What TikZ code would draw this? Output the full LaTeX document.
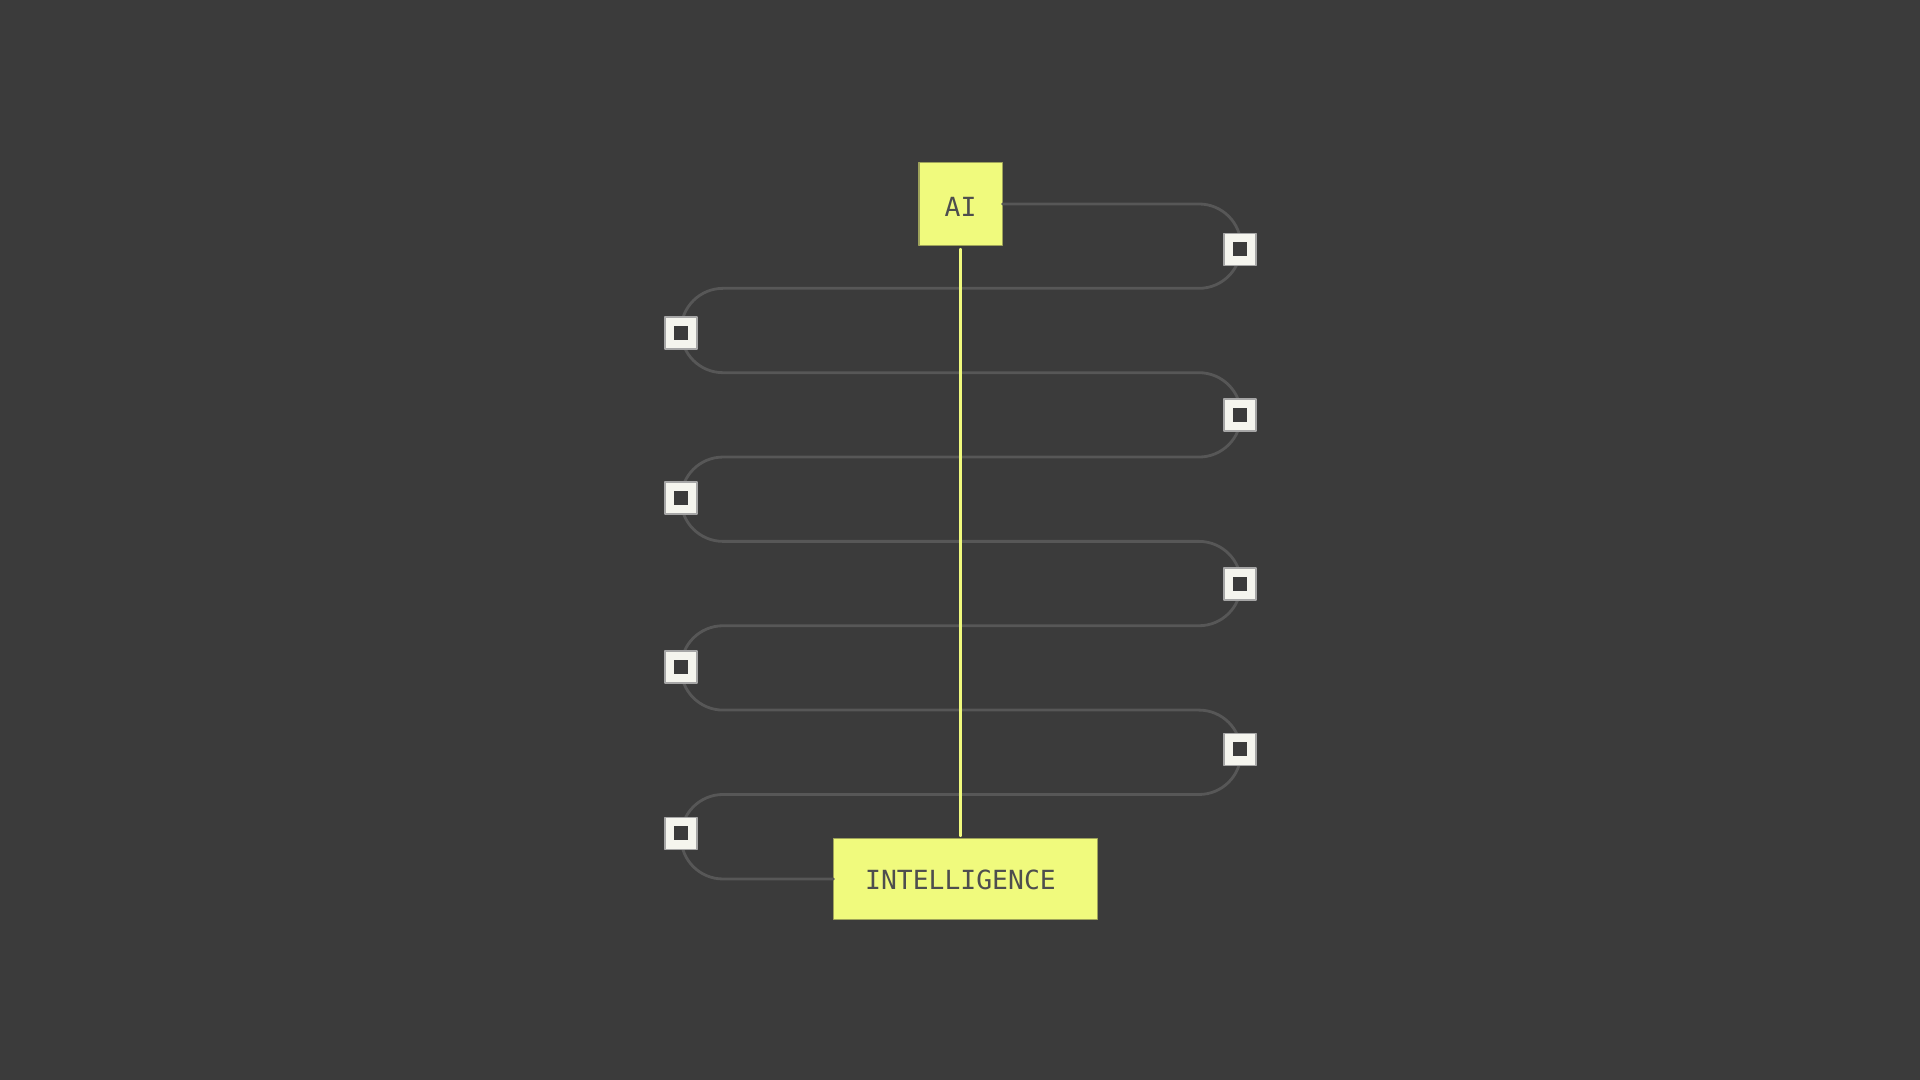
\documentclass[tikz,border=0pt]{standalone}
\usepackage{fontspec}
\setmonofont{DejaVu Sans Mono}
\definecolor{bgdark}{HTML}{3B3B3B}
\definecolor{pipegray}{HTML}{575757}
\definecolor{lime}{HTML}{F0FA7D}
\definecolor{limeedge}{HTML}{9EA35A}
\definecolor{textgray}{HTML}{4E4E4E}
\definecolor{chipwhite}{HTML}{F5F5EE}
\begin{document}
\begin{tikzpicture}[x=0.01cm, y=-0.01cm, font=\ttfamily\fontsize{7.5}{9}\selectfont, line join=round, line cap=round,
	box/.style={draw=limeedge, fill=lime, text=textgray, line width=0.3pt, inner sep=0pt},
	chip/.style={draw=gray!70, fill=chipwhite, line width=0.3pt, minimum size=0.32cm, inner sep=0pt,
		path picture={\fill[bgdark] (path picture bounding box.center) +(-7,-7) rectangle +(7,7);}},
	pipe/.style={draw=pipegray, line width=0.8pt, rounded corners=0.42cm},
	yline/.style={draw=lime, line width=0.7pt}]
	\fill[bgdark] (0,0) rectangle (1920,1080);
	\node[box, minimum size=0.83cm] (ai) at (960.5,204) {\raisebox{-0.03cm}[\height][0pt]{AI}};
	\node[box, minimum width=2.63cm, minimum height=0.81cm] (intel) at (965.5,879) {\hspace*{-0.1cm}\raisebox{-0.012cm}[\height][0pt]{INTELLIGENCE}};
	% duong ong
	\draw[pipe] (ai.east) -- (1241,204)
		\foreach \k [evaluate=\k as \ya using 204+84.35*\k, evaluate=\k as \yb using 204+84.35*(\k+1)] in {1,3,5}
		{-- (1241,\ya) -- (681,\ya) -- (681,\yb) -- (1241,\yb)}
		-- (1241,794.5) -- (681,794.5) -- (681,879) -- (intel.west);
	\draw[yline] ([yshift=-0.03cm]ai.south) -- ([yshift=0.02cm]ai.south |- intel.north);
	% cac o vuong
	\foreach \y [count=\n] in {249.5,415,584,749.5}
	\node[chip] (r\n) at (1240,\y) {};
	\foreach \y [count=\n] in {333,498,667,833.5}
	\node[chip] (l\n) at (681,\y) {};
\end{tikzpicture}
\end{document}
